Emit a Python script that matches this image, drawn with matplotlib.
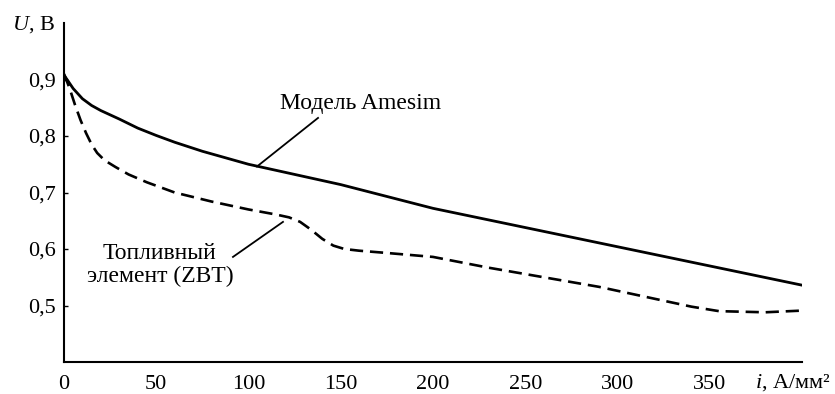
import numpy as np
import matplotlib
matplotlib.use('Agg')
import matplotlib.pyplot as plt

plt.rcParams['font.family'] = ['Liberation Serif', 'DejaVu Serif']
plt.rcParams['mathtext.fontset'] = 'custom'
plt.rcParams['mathtext.rm'] = 'Liberation Serif'
plt.rcParams['mathtext.it'] = 'Liberation Serif:italic'

###############################################################################
# Data
###############################################################################

# Amesim model
i_model = [0, 5, 10, 15, 20, 30, 40, 50, 60, 75, 100, 125, 150, 175, 200,
           250, 300, 350, 400]
u_model = [0.908, 0.884, 0.866, 0.854, 0.845, 0.830, 0.814, 0.801, 0.789,
           0.773, 0.750, 0.732, 0.714, 0.693, 0.672, 0.638, 0.604, 0.570,
           0.536]

# fuel cell (ZBT) measurement
i_zbt = [0, 3, 6, 9, 12, 15, 18, 22, 28, 35, 45, 60, 80, 100, 115, 122, 128,
         134, 140, 146, 152, 160, 175, 200, 230, 260, 290, 320, 340, 355,
         380, 400]
u_zbt = [0.91, 0.885, 0.855, 0.828, 0.805, 0.785, 0.770, 0.757, 0.745,
         0.732, 0.718, 0.700, 0.684, 0.670, 0.661, 0.656, 0.648, 0.634,
         0.618, 0.606, 0.600, 0.597, 0.593, 0.586, 0.567, 0.550, 0.533,
         0.512, 0.498, 0.490, 0.488, 0.491]

xticks = [0, 50, 100, 150, 200, 250, 300, 350]
yticks = [0.5, 0.6, 0.7, 0.8, 0.9]
yticklabels = ['0,5', '0,6', '0,7', '0,8', '0,9']

###############################################################################
# Plot
###############################################################################

fig = plt.figure(figsize=(8.35, 3.94), dpi=100)
ax = fig.add_axes([0.0766, 0.0812, 0.8839, 0.8604])

ax.plot(i_model, u_model, color='black', lw=2.0, solid_joinstyle='round')
ax.plot(i_zbt, u_zbt, color='black', lw=1.9, dashes=(5, 2.6))

ax.set_xlim(0, 400)
ax.set_ylim(0.4, 1.0)

for s in ['top', 'right']:
    ax.spines[s].set_visible(False)
for s in ['left', 'bottom']:
    ax.spines[s].set_linewidth(1.5)

ax.set_xticks(xticks)
ax.set_xticklabels([str(t) for t in xticks])
ax.set_yticks(yticks)
ax.set_yticklabels(yticklabels)
ax.tick_params(axis='x', length=0, pad=9, labelsize=16)
ax.tick_params(axis='y', direction='in', length=3, width=1, pad=6, labelsize=16)

# axis names
ax.text(-0.041, 0.994, r'$U$, В', transform=ax.transAxes, fontsize=16,
        ha='center', va='center')
ax.annotate('$i$, А/мм²', xy=(395, -0.062), xycoords=('data', 'axes fraction'),
            fontsize=16, ha='center', va='center')

# labels with leader lines
ax.text(161, 0.858, 'Модель Amesim', fontsize=17, ha='center', va='center')
ax.plot([137.7, 104.6], [0.832, 0.746], color='black', lw=1.3)

ax.text(52, 0.572, 'Топливный\nэлемент (ZBT)', fontsize=17, ha='center',
        va='center', linespacing=1.15)
ax.plot([91.6, 118.7], [0.586, 0.648], color='black', lw=1.3)

plt.savefig('out.png', dpi=100)
